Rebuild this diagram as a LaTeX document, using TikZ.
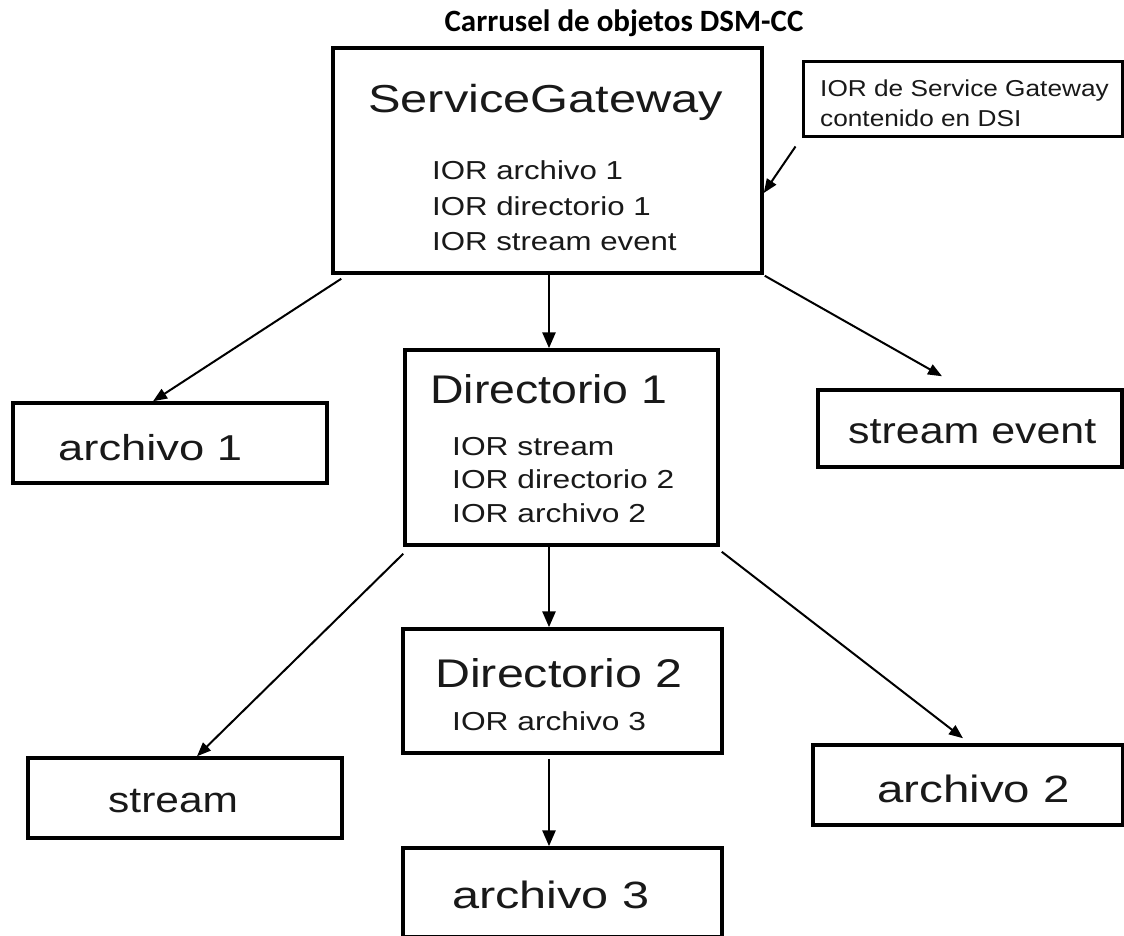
\documentclass[tikz,border=0pt]{standalone}
\usepackage{fontspec}
\setmainfont{Liberation Sans}
\newfontfamily\titlefont{Carlito}
\usepackage{graphicx}
\usetikzlibrary{arrows.meta}
\newcommand{\wtxt}[3]{\fontsize{#1}{#1}\selectfont\scalebox{#2}[1]{#3}}
\begin{document}
\begin{tikzpicture}[x=1pt,y=-1pt,
  box/.style={draw=black,line width=3.5pt,inner sep=0pt,fill=white},
  txt/.style={inner sep=0pt,anchor=base west,text=black!90},
  arr/.style={-{Triangle[length=16pt,width=13pt]},line width=2.8pt},
  darr/.style={-{Triangle[length=14pt,width=11pt]},line width=2pt}]
\useasboundingbox[fill=white] (0,0) rectangle (1124,936);

% title
\node[inner sep=0pt,anchor=base] (title) at (624,32) {\titlefont\bfseries\fontsize{31}{31}\selectfont Carrusel de objetos DSM-CC};

% boxes
\node[box,minimum width=429pt,minimum height=225pt] (sg) at (547.5,160.5) {};
\node[box,line width=3pt,minimum width=319pt,minimum height=75pt] (note) at (962.5,99.5) {};
\node[box,minimum width=314pt,minimum height=80pt] (a1) at (170,443) {};
\node[box,minimum width=304pt,minimum height=77pt] (se) at (970,428.5) {};
\node[box,minimum width=313pt,minimum height=195pt] (d1) at (561.5,447.5) {};
\node[box,minimum width=319pt,minimum height=124pt] (d2) at (562.5,691) {};
\node[box,minimum width=314pt,minimum height=80pt] (st) at (185,798) {};
\node[box,minimum width=310pt,minimum height=80pt] (a2) at (968,785) {};
\node[box,minimum width=319pt,minimum height=89pt] (a3) at (562.5,892.5) {};

% texts
\node[txt] (sgt) at (368,113) {\wtxt{39}{1.25}{ServiceGateway}};
\node[txt] (sgl1) at (432,180) {\wtxt{26}{1.2}{IOR archivo 1}};
\node[txt] (sgl2) at (432,215) {\wtxt{26}{1.2}{IOR directorio 1}};
\node[txt] (sgl3) at (432,250) {\wtxt{26}{1.2}{IOR stream event}};

\node[txt] (nl1) at (820,97) {\wtxt{23}{1.14}{IOR de Service Gateway}};
\node[txt] (nl2) at (820,127) {\wtxt{23}{1.14}{contenido en DSI}};

\node[txt] (a1t) at (58,460) {\wtxt{36}{1.26}{archivo 1}};
\node[txt] (set) at (848,443) {\wtxt{37}{1.16}{stream event}};

\node[txt] (d1t) at (430,403) {\wtxt{40}{1.16}{Directorio 1}};
\node[txt] (d1l1) at (452,455) {\wtxt{26}{1.22}{IOR stream}};
\node[txt] (d1l2) at (452,488) {\wtxt{26}{1.22}{IOR directorio 2}};
\node[txt] (d1l3) at (452,522) {\wtxt{26}{1.22}{IOR archivo 2}};

\node[txt] (d2t) at (435,687) {\wtxt{40}{1.21}{Directorio 2}};
\node[txt] (d2l1) at (452,730) {\wtxt{26}{1.22}{IOR archivo 3}};

\node[txt] (stt) at (108,812) {\wtxt{36}{1.18}{stream}};
\node[txt] (a2t) at (877,802) {\wtxt{38}{1.25}{archivo 2}};
\node[txt] (a3t) at (452,908) {\wtxt{38}{1.28}{archivo 3}};

% connectors
\draw[arr] ([xshift=1.5pt]sg.south) -- ([xshift=-12.5pt]d1.north);
\draw[arr] ([xshift=-12.5pt]d1.south) -- ([xshift=-13.5pt]d2.north);
\draw[arr] ([xshift=-13.5pt,yshift=-4pt]d2.south) -- ([xshift=-13.5pt]a3.north);
\draw[darr] ([xshift=10pt,yshift=-4pt]sg.south west) -- ([xshift=-17pt]a1.north);
\draw[darr] ([xshift=1pt,yshift=-1pt]sg.south east) -- ([xshift=-28pt,yshift=12pt]se.north);
\draw[darr] ([yshift=-7pt]d1.south west) -- ([xshift=12pt]st.north);
\draw[darr] ([xshift=2pt,yshift=-5pt]d1.south east) -- ([xshift=-5pt,yshift=5pt]a2.north);
\draw[darr] ([xshift=-6pt,yshift=-8pt]note.south west) -- ([yshift=-32.5pt]sg.east);
\end{tikzpicture}
\end{document}
